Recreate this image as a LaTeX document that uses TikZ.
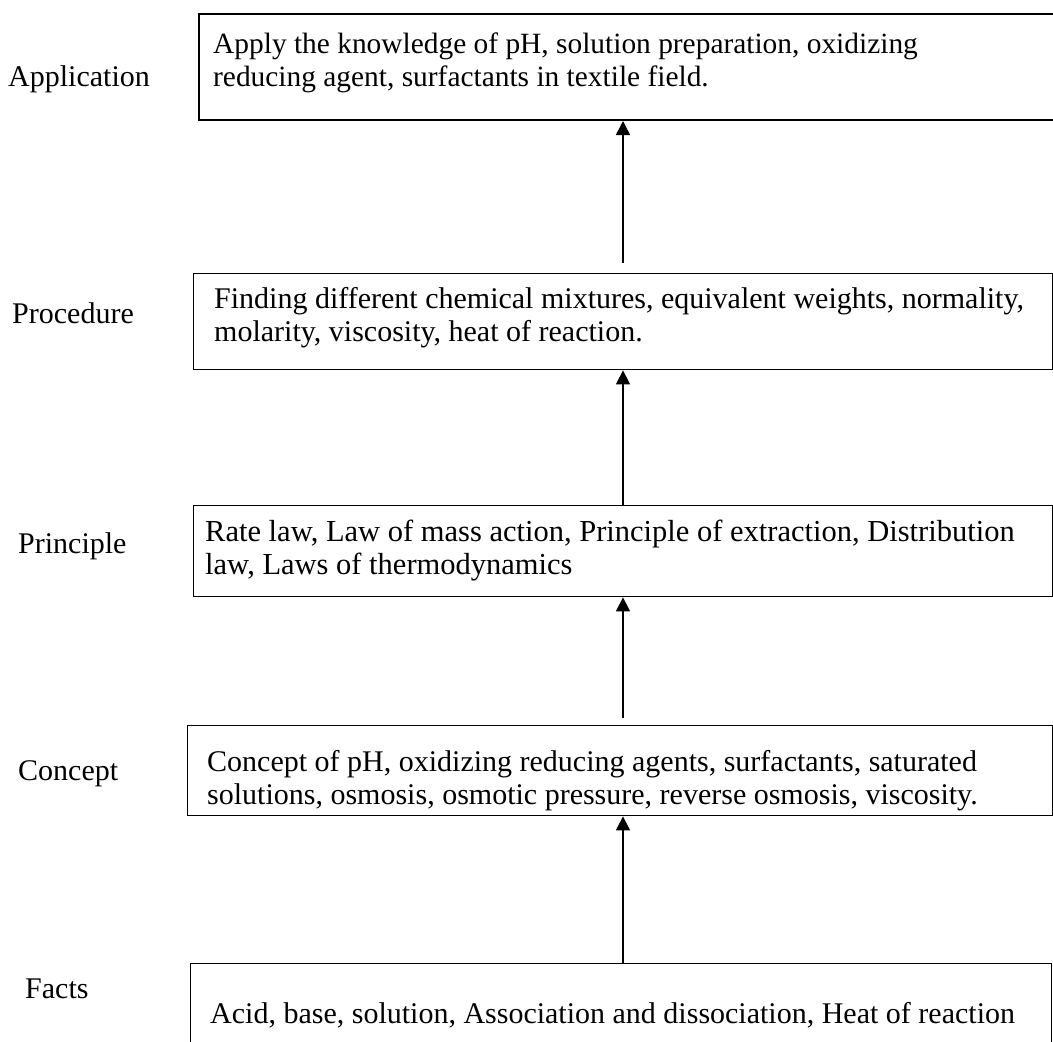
\documentclass[tikz,border=0pt]{standalone}
\usepackage{fontspec}
\setmainfont{Liberation Serif}
\usetikzlibrary{arrows.meta}
\begin{document}
\begin{tikzpicture}[x=1pt,y=-1pt,
  stagebox/.style={draw, line width=1.4pt, rectangle, inner sep=0pt, anchor=north west},
  boxtext/.style={anchor=base west, inner sep=0pt, align=left, font=\fontsize{30}{33}\selectfont},
  stagelabel/.style={anchor=base west, inner sep=0pt, font=\fontsize{30}{33}\selectfont},
  uparrow/.style={line width=1.5pt, -{Triangle[length=14pt,width=14pt]}}]
\useasboundingbox (0,0) rectangle (1053,1042);
\clip (0,0) rectangle (1053,1042);

% stage boxes
\node[stagebox, line width=2pt, minimum width=880pt, minimum height=106pt] (app) at (198,13) {};
\node[stagebox, minimum width=859pt, minimum height=96pt]  (proc)  at (193,273) {};
\node[stagebox, minimum width=859pt, minimum height=91pt]  (prin)  at (193,505) {};
\node[stagebox, minimum width=865pt, minimum height=90pt]  (conc)  at (187,725) {};
\node[stagebox, minimum width=861pt, minimum height=110pt] (facts) at (190,963) {};

% box contents (anchored at the baseline of the last line)
\node[boxtext, font=\fontsize{29.4}{33}\selectfont] (apptxt) at (213,86) {Apply the knowledge of pH, solution preparation, oxidizing\\reducing agent, surfactants in textile field.};
\node[boxtext] (proctxt)  at (214,341)  {Finding different chemical mixtures, equivalent weights, normality,\\molarity, viscosity, heat of reaction.};
\node[boxtext, font=\fontsize{30.5}{33}\selectfont] (printxt) at (205,574) {Rate law, Law of mass action, Principle of extraction, Distribution\\law, Laws of thermodynamics};
\node[boxtext] (conctxt)  at (207,804)  {Concept of pH, oxidizing reducing agents, surfactants, saturated\\solutions, osmosis, osmotic pressure, reverse osmosis, viscosity.};
\node[boxtext] (factstxt) at (210,1023) {Acid, base, solution, Association and dissociation, Heat of reaction};

% stage names
\node[stagelabel] (lapp)   at (8,86)   {Application};
\node[stagelabel] (lproc)  at (12,323) {Procedure};
\node[stagelabel] (lprin)  at (18,553) {Principle};
\node[stagelabel] (lconc)  at (18,780) {Concept};
\node[stagelabel] (lfacts) at (25,998) {Facts};

% connectors
\coordinate (ax) at (623,0);
\draw[uparrow] (facts.north -| ax) -- (conc.south -| ax);
\draw[uparrow] ([yshift=7pt]conc.north -| ax) -- (prin.south -| ax);
\draw[uparrow] (prin.north -| ax) -- (proc.south -| ax);
\draw[uparrow] ([yshift=10pt]proc.north -| ax) -- (app.south -| ax);
\end{tikzpicture}
\end{document}
